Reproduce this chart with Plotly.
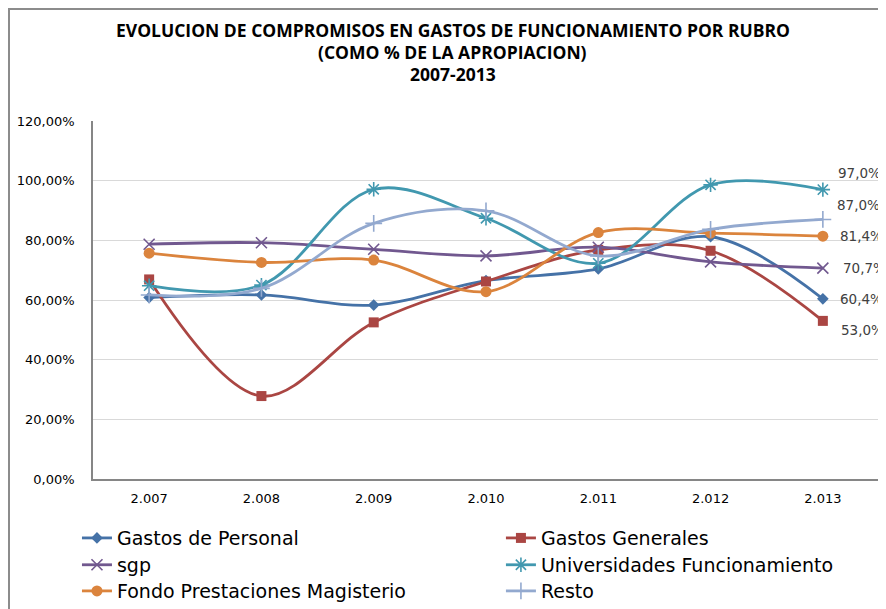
import plotly.graph_objects as go

years = ["2.007", "2.008", "2.009", "2.010", "2.011", "2.012", "2.013"]

gastos_personal = [60.8, 61.7, 58.3, 66.5, 70.4, 81.2, 60.4]
gastos_generales = [66.9, 27.8, 52.5, 66.2, 76.8, 76.5, 53.0]
sgp = [78.7, 79.2, 77.0, 74.8, 77.7, 72.8, 70.7]
universidades = [64.8, 65.0, 97.1, 87.4, 72.3, 98.6, 97.0]
fondo = [75.7, 72.6, 73.4, 62.8, 82.6, 82.4, 81.4]
resto = [61.7, 63.9, 85.7, 89.9, 74.8, 83.7, 87.0]

series_names = ["Gastos de Personal", "Gastos Generales", "sgp",
                "Universidades Funcionamiento", "Fondo Prestaciones Magisterio", "Resto"]
series_values = [gastos_personal, gastos_generales, sgp, universidades, fondo, resto]

y_ticks = [0, 20, 40, 60, 80, 100, 120]
y_tick_text = ["0,00%", "20,00%", "40,00%", "60,00%", "80,00%", "100,00%", "120,00%"]

title_lines = ["EVOLUCION DE COMPROMISOS EN GASTOS DE FUNCIONAMIENTO POR RUBRO",
               "(COMO % DE LA APROPIACION)",
               "2007-2013"]

# styles
colors = ["#4572A7", "#AA4643", "#71588F", "#4198AF", "#DB843D", "#93A9CF"]
symbols = ["diamond", "square", "x-thin", "asterisk", "circle", "cross-thin"]
msizes = [9, 10, 11, 12, 11, 12]
label_xshift = [-41, -40, -38, -43, -41, -44]
label_yshift = [0, -9, 0, 17, 0, 14]

# legend slot positions (paper coords): left column / right column, three rows
leg_x = [-0.0204, 0.519, -0.0204, 0.519, -0.0204, 0.519]
leg_y = [-0.165, -0.165, -0.240, -0.240, -0.313, -0.313]

TITLE_FONT = "Open Sans"
FONT = "DejaVu Sans"

# figure is drawn inside the page's 8px body margin
W, H = 878, 601
L, R, T, B = 85, 7, 113, 130
PW, PH = W - L - R, H - T - B

fig = go.Figure()
legend_keys = ["legend", "legend2", "legend3", "legend4", "legend5", "legend6"]
for name, vals, c, s, ms, lk in zip(series_names, series_values, colors, symbols, msizes, legend_keys):
    thin = s in ("x-thin", "asterisk", "cross-thin")
    fig.add_trace(go.Scatter(
        x=years, y=vals, name=name, mode="lines+markers", legend=lk,
        line=dict(color=c, width=2.8, shape="spline", smoothing=1.0),
        marker=dict(symbol=s, size=ms, color=c,
                    line=dict(color=c, width=1.6 if thin else 0)),
    ))

annotations = []
for vals, dx, dy in zip(series_values, label_xshift, label_yshift):
    v = vals[-1]
    annotations.append(dict(
        x=1, y=v, xref="paper", yref="y",
        text=f"{v:.1f}%".replace(".", ","), showarrow=False,
        xanchor="left", yanchor="middle", xshift=dx, yshift=dy,
        font=dict(family=FONT, size=13.5, color="#404040")))

title_y = [1.254, 1.193, 1.131]
for t, ty in zip(title_lines, title_y):
    annotations.append(dict(
        x=0.458, y=ty, xref="paper", yref="paper", text=f"<b>{t}</b>",
        showarrow=False, xanchor="center", yanchor="middle",
        font=dict(family=TITLE_FONT, size=17.5, color="#000000")))

legends = {}
for lk, lx, ly in zip(legend_keys, leg_x, leg_y):
    legends[lk] = dict(orientation="v", x=lx, y=ly, xanchor="left", yanchor="middle",
                       font=dict(family=FONT, size=19, color="#000000"),
                       bgcolor="rgba(0,0,0,0)", itemwidth=30)

fig.update_layout(
    width=W, height=H,
    margin=dict(l=L, r=R, t=T, b=B, pad=0, autoexpand=False),
    paper_bgcolor="white", plot_bgcolor="white",
    showlegend=True,
    annotations=annotations,
    shapes=[dict(type="rect", xref="paper", yref="paper",
                 x0=(1 - L) / PW, x1=1.2, y0=-0.5, y1=(PH + T - 1) / PH,
                 line=dict(color="#8C8C8C", width=2))],
    xaxis=dict(type="category", showgrid=False, showline=True, linecolor="#868686",
               linewidth=1.5, ticks="", tickfont=dict(family=FONT, size=13, color="#000000"),
               ticklabelstandoff=7, range=[-0.5, 6.5], fixedrange=True, automargin=False),
    yaxis=dict(range=[0, 120], tickvals=y_ticks, ticktext=y_tick_text,
               showgrid=True, gridcolor="#D9D9D9", gridwidth=1.2,
               showline=True, linecolor="#868686", linewidth=1.5, ticks="",
               zeroline=False, automargin=False,
               tickfont=dict(family=FONT, size=13, color="#000000"),
               ticklabelstandoff=14),
    **legends,
)

fig.write_html("out.html")
